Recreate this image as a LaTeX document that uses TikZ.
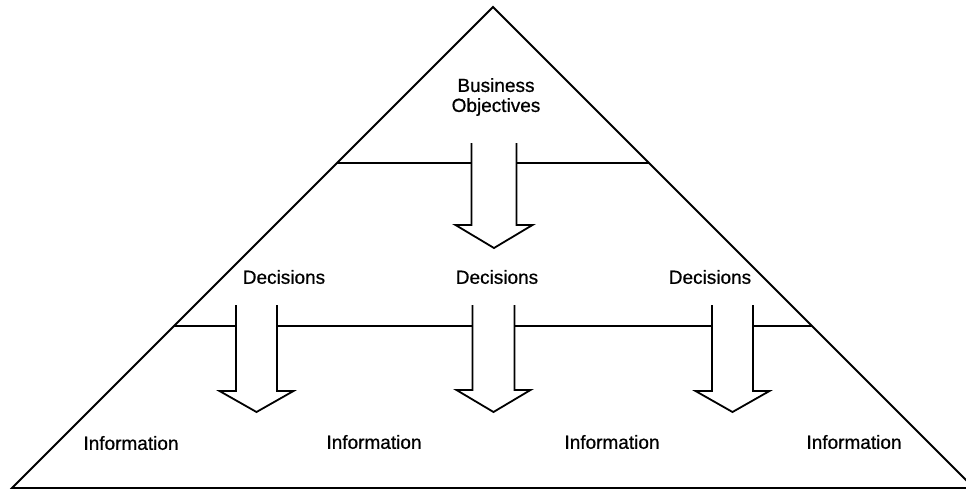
\documentclass[tikz,border=0pt]{standalone}
\usepackage{fontspec}
\setmainfont{Liberation Sans}
\newfontfamily\labelfont{Liberation Sans}[FakeBold=0.7]
\usetikzlibrary{calc}
\begin{document}
\begin{tikzpicture}[x=1pt,y=-1pt,
  outline/.style={line width=1.8pt,line join=miter,line cap=butt},
  label/.style={font=\labelfont\fontsize{19}{21}\selectfont,inner sep=0pt,align=center}]
\useasboundingbox (0,0) rectangle (966,490);
\clip (0,0) rectangle (966,490);

% pyramid corners
\coordinate (A) at (493,7);
\coordinate (L) at (12,488);
\coordinate (R) at (974,488);
\draw[outline] (L) -- (A) -- (R) -- cycle;

% level boundaries on the sides of the pyramid
\coordinate (u1) at ($(A)!0.3243!(L)$);
\coordinate (u2) at ($(A)!0.3243!(R)$);
\coordinate (l1) at ($(A)!0.6632!(L)$);
\coordinate (l2) at ($(A)!0.6632!(R)$);

% hollow downward arrow: centre x, top, shoulder, tip, half shaft, half head
\newcommand\hollowarrow[6]{%
  \draw[outline] (#1-#5,#2) -- (#1-#5,#3) -- (#1-#6,#3) -- (#1,#4)
    -- (#1+#6,#3) -- (#1+#5,#3) -- (#1+#5,#2);}

% top arrow and its level line
\coordinate (s1l) at (471.5,163);
\coordinate (s1r) at (516.5,163);
\hollowarrow{494}{143}{225}{248}{22.5}{38.5}
\draw[outline] (u1) -- (s1l);
\draw[outline] (s1r) -- (u2);

% lower arrows and the level line between them
\coordinate (a1) at (236,326);
\coordinate (a2) at (277,326);
\coordinate (b1) at (472.5,326);
\coordinate (b2) at (514.5,326);
\coordinate (c1) at (712,326);
\coordinate (c2) at (753,326);
\hollowarrow{256.5}{305}{391}{412}{20.5}{37}
\hollowarrow{493.5}{305}{390}{412}{21}{37}
\hollowarrow{732.5}{305}{391}{412}{20.5}{37}
\draw[outline] (l1) -- (a1);
\draw[outline] (a2) -- (b1);
\draw[outline] (b2) -- (c1);
\draw[outline] (c2) -- (l2);

% labels
\node[label] (obj) at (496,97) {Business\\[-1pt]Objectives};
\node[label] (d1) at (284,277) {Decisions};
\node[label] (d2) at (497,277) {Decisions};
\node[label] (d3) at (710,277) {Decisions};
\node[label] (i1) at (131,443) {Information};
\node[label] (i2) at (374,442) {Information};
\node[label] (i3) at (612,442) {Information};
\node[label] (i4) at (854,442) {Information};
\end{tikzpicture}
\end{document}
